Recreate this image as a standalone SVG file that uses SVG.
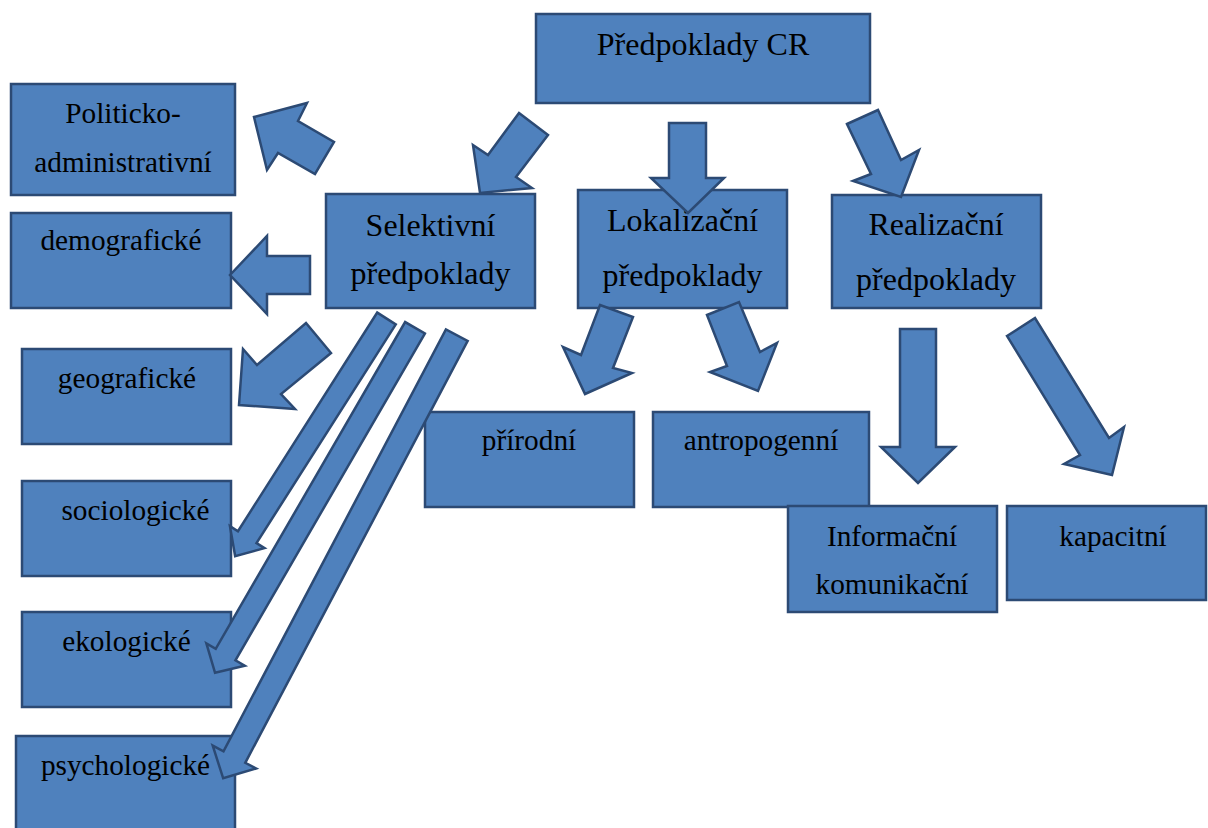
<svg xmlns="http://www.w3.org/2000/svg" width="1208" height="828" viewBox="0 0 1208 828">
<style>
.box{fill:#4F81BD;stroke:#2C4A74;stroke-width:2.5}
.arr{fill:#4F81BD;stroke:#2C4A74;stroke-width:2.5;stroke-linejoin:miter}
text{font-family:"Liberation Serif","Times New Roman",serif;fill:#000;text-anchor:middle}
.big{font-size:32px}
.sm{font-size:29.3px}
</style>
<rect width="1208" height="828" fill="#fff"/>
<g id="n-cr"><rect class="box" x="536" y="14" width="334" height="89"/><text class="big" x="703" y="55">Předpoklady CR</text></g>
<g id="n-polit"><rect class="box" x="11" y="84" width="224" height="111"/><text class="sm" x="123" y="123">Politicko-</text><text class="sm" x="123" y="172">administrativní</text></g>
<g id="n-demo"><rect class="box" x="11" y="213" width="220" height="95"/><text class="sm" x="121" y="250">demografické</text></g>
<g id="n-geo"><rect class="box" x="22" y="349" width="209" height="95"/><text class="sm" x="127" y="388">geografické</text></g>
<g id="n-socio"><rect class="box" x="22" y="481" width="209" height="95"/><text class="sm" x="135.5" y="520">sociologické</text></g>
<g id="n-eko"><rect class="box" x="22" y="612" width="209" height="95"/><text class="sm" x="126.5" y="651">ekologické</text></g>
<g id="n-psych"><rect class="box" x="16" y="736" width="219" height="100"/><text class="sm" x="125.5" y="775">psychologické</text></g>
<g id="n-sel"><rect class="box" x="326" y="194" width="209" height="114"/><text class="big" x="430.5" y="236">Selektivní</text><text class="big" x="430.5" y="284">předpoklady</text></g>
<g id="n-lok"><rect class="box" x="578" y="190" width="209" height="118"/><text class="big" x="682.5" y="231">Lokalizační</text><text class="big" x="682.5" y="286">předpoklady</text></g>
<g id="n-real"><rect class="box" x="832" y="195" width="209" height="113"/><text class="big" x="936" y="235">Realizační</text><text class="big" x="936" y="290">předpoklady</text></g>
<g id="n-prir"><rect class="box" x="425" y="412" width="209" height="95"/><text class="sm" x="529" y="450">přírodní</text></g>
<g id="n-antro"><rect class="box" x="653" y="412" width="216" height="95"/><text class="sm" x="761" y="450">antropogenní</text></g>
<g id="n-info"><rect class="box" x="788" y="506" width="209" height="106"/><text class="sm" x="892" y="546">Informační</text><text class="sm" x="892" y="594">komunikační</text></g>
<g id="n-kap"><rect class="box" x="1007" y="506" width="199" height="94"/><text class="sm" x="1113" y="546">kapacitní</text></g>
<g id="connectors">
<polygon class="arr" points="519,113 548,135 516,177 532,188 480,193 473,145 488,155"/>
<polygon class="arr" points="669,123 706,123 706,178 724,178 688,213 651,178 669,178"/>
<polygon class="arr" points="847,124 878,110 901,160 919,150 901,197 853,181 871,174"/>
<polygon class="arr" points="254,117 307,103 298,121 334,142 315,174 278,153 267,170"/>
<polygon class="arr" points="230,275 267,236 267,256 310,256 310,294 267,294 267,314"/>
<polygon class="arr" points="239,405 243,349 257,365 306,323 331,353 281,394 295,409"/>
<polygon class="arr" transform="translate(386.5,318.5) rotate(122.5)" points="0,-11 259.2,-11 259.2,-20.5 281.7,0 259.2,20.5 259.2,11 0,11"/>
<polygon class="arr" transform="translate(415,327.8) rotate(120.1)" points="0,-11.4 377.7,-11.4 377.7,-22.2 398.7,0 377.7,22.2 377.7,11.4 0,11.4"/>
<polygon class="arr" transform="translate(456.8,335.2) rotate(117.8)" points="0,-12.3 476.9,-12.3 476.9,-24.5 500.9,0 476.9,24.5 476.9,12.3 0,12.3"/>
<polygon class="arr" points="600,305 633,317 613,368 632,373 585,394 563,347 581,355"/>
<polygon class="arr" points="707,315 739,302 760,352 777,343 758,391 710,372 727,366"/>
<polygon class="arr" points="900,329 936,329 936,447 955,447 918,483 881,447 900,447"/>
<polygon class="arr" points="1007,336 1035,318 1109,438 1124,427 1112,475 1064,464 1080,455"/>
</g>
</svg>
